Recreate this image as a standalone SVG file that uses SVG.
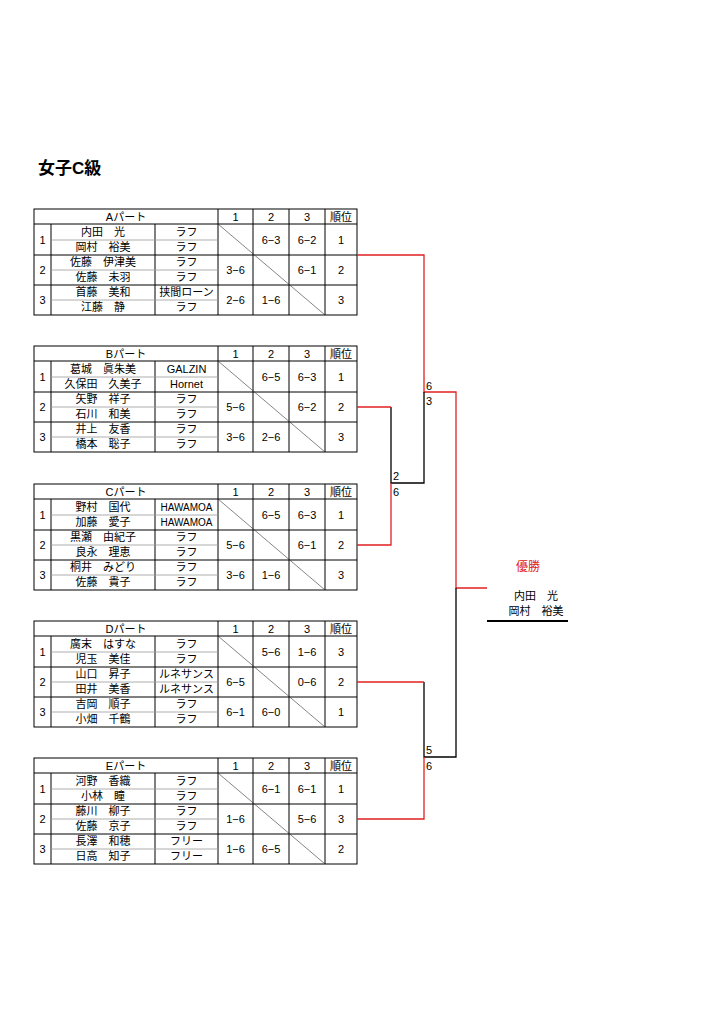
<svg xmlns="http://www.w3.org/2000/svg" width="724" height="1024" viewBox="0 0 724 1024">
<style>
text{font-family:"Liberation Sans","Noto Sans CJK JP",sans-serif;font-size:11px;fill:#000;text-anchor:middle}
.b{fill:none;stroke:#000;stroke-width:1}
.g{stroke:#999;stroke-width:0.8}
.d{stroke:#333;stroke-width:0.6}
.r{fill:none;stroke:#e02020;stroke-width:1.3}
.k{fill:none;stroke:#000;stroke-width:1.3}
</style>
<defs>
<g id="grid">
<rect class="b" x="34" y="209" width="323" height="106"/>
<path class="b" d="M34 224H357M34 255H357M34 285H357M51 224V315M155 224V315M218 209V315M253 209V315M289 209V315M325 209V315"/>
<path class="g" d="M51 240H218M51 270H218M51 300H218"/>
<path class="d" d="M218 224L325 315"/>
<text x="341" y="221">順位</text><text x="235.5" y="221">1</text><text x="271" y="221">2</text><text x="307" y="221">3</text>
<text x="42.5" y="244">1</text><text x="42.5" y="274">2</text><text x="42.5" y="304">3</text>
</g>
</defs>
<text x="38" y="174" style="font-size:17px;font-weight:bold;text-anchor:start">女子C級</text>

<g id="partA">
<use href="#grid"/>
<text x="126" y="221">Aパート</text>
<text x="103" y="236">内田　光</text><text x="186.5" y="236">ラフ</text>
<text x="103" y="251">岡村　裕美</text><text x="186.5" y="251">ラフ</text>
<text x="103" y="266">佐藤　伊津美</text><text x="186.5" y="266">ラフ</text>
<text x="103" y="281">佐藤　未羽</text><text x="186.5" y="281">ラフ</text>
<text x="103" y="296">首藤　美和</text><text x="186.5" y="296">挟間ローン</text>
<text x="103" y="311">江藤　静</text><text x="186.5" y="311">ラフ</text>
<text x="271" y="244">6−3</text><text x="307" y="244">6−2</text><text x="341" y="244">1</text>
<text x="235.5" y="274">3−6</text><text x="307" y="274">6−1</text><text x="341" y="274">2</text>
<text x="235.5" y="304">2−6</text><text x="271" y="304">1−6</text><text x="341" y="304">3</text>
</g>

<g id="partB" transform="translate(0,137)">
<use href="#grid"/>
<text x="126" y="221">Bパート</text>
<text x="103" y="236">葛城　眞朱美</text><text x="186.5" y="236">GALZIN</text>
<text x="103" y="251">久保田　久美子</text><text x="186.5" y="251">Hornet</text>
<text x="103" y="266">矢野　祥子</text><text x="186.5" y="266">ラフ</text>
<text x="103" y="281">石川　和美</text><text x="186.5" y="281">ラフ</text>
<text x="103" y="296">井上　友香</text><text x="186.5" y="296">ラフ</text>
<text x="103" y="311">橋本　聡子</text><text x="186.5" y="311">ラフ</text>
<text x="271" y="244">6−5</text><text x="307" y="244">6−3</text><text x="341" y="244">1</text>
<text x="235.5" y="274">5−6</text><text x="307" y="274">6−2</text><text x="341" y="274">2</text>
<text x="235.5" y="304">3−6</text><text x="271" y="304">2−6</text><text x="341" y="304">3</text>
</g>

<g id="partC" transform="translate(0,275)">
<use href="#grid"/>
<text x="126" y="221">Cパート</text>
<text x="103" y="236">野村　国代</text><text x="186.5" y="236" style="font-size:10px">HAWAMOA</text>
<text x="103" y="251">加藤　愛子</text><text x="186.5" y="251" style="font-size:10px">HAWAMOA</text>
<text x="103" y="266">黒瀬　由紀子</text><text x="186.5" y="266">ラフ</text>
<text x="103" y="281">良永　理恵</text><text x="186.5" y="281">ラフ</text>
<text x="103" y="296">桐井　みどり</text><text x="186.5" y="296">ラフ</text>
<text x="103" y="311">佐藤　貴子</text><text x="186.5" y="311">ラフ</text>
<text x="271" y="244">6−5</text><text x="307" y="244">6−3</text><text x="341" y="244">1</text>
<text x="235.5" y="274">5−6</text><text x="307" y="274">6−1</text><text x="341" y="274">2</text>
<text x="235.5" y="304">3−6</text><text x="271" y="304">1−6</text><text x="341" y="304">3</text>
</g>

<g id="partD" transform="translate(0,412)">
<use href="#grid"/>
<text x="126" y="221">Dパート</text>
<text x="103" y="236">廣末　はすな</text><text x="186.5" y="236">ラフ</text>
<text x="103" y="251">児玉　美佳</text><text x="186.5" y="251">ラフ</text>
<text x="103" y="266">山口　昇子</text><text x="186.5" y="266">ルネサンス</text>
<text x="103" y="281">田井　美香</text><text x="186.5" y="281">ルネサンス</text>
<text x="103" y="296">吉岡　順子</text><text x="186.5" y="296">ラフ</text>
<text x="103" y="311">小畑　千鶴</text><text x="186.5" y="311">ラフ</text>
<text x="271" y="244">5−6</text><text x="307" y="244">1−6</text><text x="341" y="244">3</text>
<text x="235.5" y="274">6−5</text><text x="307" y="274">0−6</text><text x="341" y="274">2</text>
<text x="235.5" y="304">6−1</text><text x="271" y="304">6−0</text><text x="341" y="304">1</text>
</g>

<g id="partE" transform="translate(0,549)">
<use href="#grid"/>
<text x="126" y="221">Eパート</text>
<text x="103" y="236">河野　香織</text><text x="186.5" y="236">ラフ</text>
<text x="103" y="251">小林　瞳</text><text x="186.5" y="251">ラフ</text>
<text x="103" y="266">藤川　柳子</text><text x="186.5" y="266">ラフ</text>
<text x="103" y="281">佐藤　京子</text><text x="186.5" y="281">ラフ</text>
<text x="103" y="296">長澤　和穂</text><text x="186.5" y="296">フリー</text>
<text x="103" y="311">日高　知子</text><text x="186.5" y="311">フリー</text>
<text x="271" y="244">6−1</text><text x="307" y="244">6−1</text><text x="341" y="244">1</text>
<text x="235.5" y="274">1−6</text><text x="307" y="274">5−6</text><text x="341" y="274">3</text>
<text x="235.5" y="304">1−6</text><text x="271" y="304">6−5</text><text x="341" y="304">2</text>
</g>

<g id="connectors">
<path class="r" d="M357 255H424V392H456V588H487"/>
<path class="k" d="M424 392V483H391V407"/>
<path class="r" d="M357 407H391"/>
<path class="r" d="M357 545H391V483"/>
<path class="k" d="M456 588V757H424V682"/>
<path class="r" d="M357 682H424"/>
<path class="r" d="M357 819H424V757"/>
<g style="text-anchor:start">
<text x="426" y="390" style="text-anchor:start">6</text><text x="426" y="405" style="text-anchor:start">3</text>
<text x="393" y="480" style="text-anchor:start">2</text><text x="393" y="496" style="text-anchor:start">6</text>
<text x="426" y="754" style="text-anchor:start">5</text><text x="426" y="770" style="text-anchor:start">6</text>
</g>
</g>

<g id="winner">
<text x="528" y="571" style="fill:#e02020;font-size:12px">優勝</text>
<text x="536" y="600">内田　光</text>
<text x="536" y="615">岡村　裕美</text>
<path d="M487 621H568" stroke="#000" stroke-width="2"/>
</g>
</svg>
